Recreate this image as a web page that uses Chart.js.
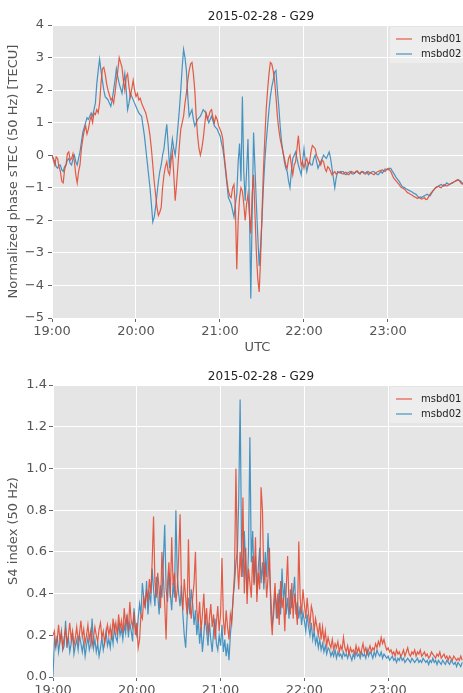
<!DOCTYPE html>
<html>
<head>
<meta charset="utf-8">
<script src="https://cdn.jsdelivr.net/npm/chart.js@4.4.1/dist/chart.umd.min.js"></script>
<style>
  body { margin: 0; background: #fff; }
  #top { position: absolute; left: 0; top: 0; }
  #bottom { position: absolute; left: 0; top: 355px; }
</style>
</head>
<body>
<canvas id="top" width="463" height="355"></canvas>
<canvas id="bottom" width="463" height="338"></canvas>
<script>
// minutes after 19:00 UTC
const hourTicks = [0, 60, 120, 180, 240]
const hourLabels = ['19:00', '20:00', '21:00', '22:00', '23:00']
const tecStep = 1
const s4Step = 1

const tecTicks = [-5, -4, -3, -2, -1, 0, 1, 2, 3, 4]
const s4Ticks = [0, 0.2, 0.4, 0.6, 0.8, 1.0, 1.2, 1.4]

const tecMsbd01 = [
  0.0, -0.15, -0.3, -0.05, -0.1, -0.35, -0.5, -0.8, -0.85, -0.45,
  -0.3, 0.05, 0.1, -0.15, -0.1, 0.05, -0.2, -0.6, -0.85, -0.5,
  -0.3, 0.2, 0.5, 0.75, 0.9, 0.65, 0.8, 1.05, 1.2, 1.0,
  1.3, 1.25, 1.4, 1.3, 1.6, 2.2, 2.65, 2.7, 2.5, 2.2,
  2.0, 1.85, 1.7, 1.75, 1.6, 1.9, 2.3, 2.6, 3.0, 2.85,
  2.7, 2.3, 2.0, 2.4, 2.5, 2.1, 1.8, 2.05, 2.3, 2.0,
  1.8, 1.9, 1.7, 1.75, 1.6, 1.5, 1.4, 1.3, 1.1, 0.9,
  0.6, 0.2, -0.3, -0.8, -1.2, -1.6, -1.85, -1.75, -1.6, -1.0,
  -0.6, -0.35, -0.2, -0.5, -0.6, -0.2, 0.1, -0.6, -1.4, -0.9,
  -0.3, 0.3, 0.8, 1.0, 1.2, 1.6, 1.9, 2.3, 2.6, 2.8,
  2.85, 2.5, 2.0, 1.2, 0.6, 0.2, 0.0, 0.2, 0.5, 0.9,
  1.3, 1.1, 1.2, 1.35, 1.4, 1.15, 1.0, 1.2, 1.1, 0.9,
  0.8, 0.7, 0.5, 0.0, -0.4, -0.8, -1.1, -1.25, -1.3, -1.0,
  -0.9, -1.6, -3.5, -2.0, -1.3, -1.0, -1.1, -1.5, -2.0, -1.5,
  -1.2, -1.8, -2.4, -1.2, -0.6, -1.8, -3.0, -3.8, -4.2, -3.2,
  -1.8, -0.5, 0.5, 1.4, 2.0, 2.5, 2.85, 2.8, 2.6, 2.3,
  1.8, 1.2, 0.8, 0.5, 0.3, 0.1, -0.1, -0.3, -0.4, -0.1,
  0.0, -0.3, -0.6, -0.3, -0.2, 0.2, 0.6, 0.1, -0.3, -0.2,
  -0.4, -0.2, -0.1, -0.3, -0.2, 0.1, 0.3, 0.25, 0.2, 0.0,
  -0.1, -0.2, -0.3, -0.15, -0.2, -0.4, -0.5, -0.35, -0.4, -0.5,
  -0.6, -0.55, -0.5, -0.58, -0.55, -0.52, -0.5, -0.56, -0.58, -0.54,
  -0.52, -0.58, -0.6, -0.55, -0.5, -0.52, -0.55, -0.5, -0.48, -0.53,
  -0.56, -0.5, -0.52, -0.57, -0.58, -0.53, -0.5, -0.55, -0.54, -0.58,
  -0.6, -0.55, -0.52, -0.5, -0.48, -0.46, -0.45, -0.48, -0.5, -0.44,
  -0.4, -0.45, -0.5, -0.6, -0.7, -0.75, -0.8, -0.85, -0.9, -0.97,
  -1.0, -1.02, -1.05, -1.1, -1.15, -1.17, -1.2, -1.22, -1.25, -1.28,
  -1.3, -1.33, -1.3, -1.32, -1.35, -1.33, -1.3, -1.36, -1.35, -1.28,
  -1.2, -1.15, -1.1, -1.05, -1.0, -0.97, -0.95, -0.98, -1.0, -0.95,
  -0.9, -0.93, -0.95, -0.92, -0.9, -0.87, -0.85, -0.82, -0.8, -0.78,
  -0.75, -0.78, -0.85, -0.88, -0.9
]
const tecMsbd02 = [
  0.0, -0.1, -0.2, -0.35, -0.4, -0.3, -0.3, -0.45, -0.5, -0.35,
  -0.3, -0.15, -0.1, -0.25, -0.3, -0.1, 0.0, -0.2, -0.3, -0.1,
  0.1, 0.4, 0.7, 0.85, 1.0, 1.15, 1.1, 1.2, 1.3, 1.2,
  1.4, 1.6, 2.2, 2.6, 2.95, 2.6, 2.3, 2.0, 1.8, 1.75,
  1.7, 1.6, 1.5, 1.7, 2.0, 2.3, 2.65, 2.4, 2.2, 2.05,
  1.9, 2.2, 2.5, 2.0, 1.4, 1.6, 1.9, 1.8, 1.7, 1.6,
  1.5, 1.4, 1.3, 1.25, 1.2, 0.9, 0.6, 0.2, -0.2, -0.6,
  -1.0, -1.5, -2.05, -1.9, -1.6, -1.2, -0.8, -0.5, -0.3, 0.0,
  0.2, 0.6, 0.95, 0.3, -0.4, 0.1, 0.5, 0.2, 0.0, 0.4,
  0.9, 1.4, 2.0, 2.7, 3.25, 3.0, 2.6, 1.8, 1.2, 1.3,
  1.4, 1.1, 0.9, 1.0, 1.1, 1.15, 1.2, 1.3, 1.4, 1.35,
  1.3, 1.15, 1.0, 1.1, 1.2, 1.05, 0.9, 0.85, 0.8, 0.7,
  0.6, 0.4, 0.2, -0.1, -0.5, -0.9, -1.3, -1.4, -1.5, -1.7,
  -1.9, -1.5, -1.2, -0.2, 0.36, -0.8, 1.8, -0.5, -1.4, -0.5,
  0.5, -1.5, -4.4, -1.8, 0.7, -0.4, -1.5, -2.5, -3.4, -2.8,
  -2.0, -1.0, -0.2, 0.4, 0.9, 1.4, 1.8, 2.1, 2.3, 2.55,
  2.6, 2.0, 1.5, 0.9, 0.4, 0.1, -0.2, -0.4, -0.5, -0.8,
  -1.0, -0.5, -0.1, 0.0, 0.1, -0.1, -0.3, -0.45, -0.6, -0.2,
  0.2, -0.2, -0.5, -0.3, -0.2, -0.3, -0.3, -0.1, 0.0, -0.2,
  -0.4, -0.3, -0.2, -0.1, 0.0, -0.05, -0.1, 0.0, 0.1, -0.1,
  -0.4, -0.7, -1.0, -0.7, -0.5, -0.52, -0.55, -0.5, -0.5, -0.57,
  -0.6, -0.55, -0.52, -0.5, -0.56, -0.58, -0.56, -0.52, -0.5, -0.55,
  -0.58, -0.52, -0.5, -0.53, -0.55, -0.5, -0.6, -0.56, -0.52, -0.5,
  -0.5, -0.55, -0.58, -0.6, -0.55, -0.5, -0.55, -0.48, -0.42, -0.44,
  -0.45, -0.4, -0.4, -0.48, -0.55, -0.62, -0.7, -0.75, -0.8, -0.88,
  -0.95, -0.98, -1.0, -1.03, -1.05, -1.08, -1.1, -1.12, -1.15, -1.18,
  -1.2, -1.25, -1.3, -1.28, -1.3, -1.27, -1.25, -1.22, -1.2, -1.23,
  -1.25, -1.18, -1.1, -1.05, -1.0, -0.98, -0.95, -0.92, -0.9, -0.93,
  -0.95, -0.9, -0.85, -0.88, -0.9, -0.87, -0.85, -0.82, -0.8, -0.77,
  -0.75, -0.78, -0.8, -0.85, -0.9
]

const s4Msbd01 = [
  0.20, 0.22, 0.15, 0.18, 0.25, 0.17, 0.21, 0.14, 0.19, 0.23,
  0.16, 0.20, 0.26, 0.18, 0.22, 0.15, 0.19, 0.24, 0.17, 0.21,
  0.27, 0.19, 0.23, 0.16, 0.20, 0.25, 0.18, 0.22, 0.15, 0.19,
  0.24, 0.20, 0.17, 0.23, 0.26, 0.19, 0.22, 0.16, 0.21, 0.25,
  0.20, 0.24, 0.18, 0.28, 0.22, 0.26, 0.20, 0.30, 0.23, 0.27,
  0.21, 0.33, 0.25, 0.29, 0.22, 0.36, 0.27, 0.24, 0.31, 0.20,
  0.26, 0.14, 0.18, 0.30, 0.28, 0.38, 0.34, 0.42, 0.36, 0.47,
  0.40, 0.55, 0.77, 0.45, 0.38, 0.50, 0.42, 0.33, 0.60, 0.48,
  0.35, 0.18, 0.45, 0.55, 0.38, 0.67, 0.44, 0.50, 0.36, 0.42,
  0.58, 0.78, 0.40, 0.32, 0.47, 0.38, 0.30, 0.66, 0.35, 0.28,
  0.38, 0.45, 0.60, 0.32, 0.26, 0.36, 0.22, 0.30, 0.40, 0.25,
  0.33, 0.20, 0.28, 0.35, 0.24, 0.30, 0.18, 0.26, 0.34, 0.22,
  0.30, 0.57, 0.28, 0.20, 0.32, 0.24, 0.18, 0.30, 0.26, 0.38,
  0.50, 1.00, 0.55, 0.42, 0.60, 0.48, 0.86, 0.40, 0.62, 0.35,
  0.52, 0.45, 0.38, 0.58, 0.44, 0.67, 0.36, 0.50, 0.42, 0.91,
  0.80, 0.45, 0.55, 0.38, 0.48, 0.62, 0.30, 0.20, 0.35, 0.45,
  0.28, 0.40, 0.25, 0.46, 0.33, 0.38, 0.22, 0.42, 0.58, 0.35,
  0.30, 0.45, 0.28, 0.40, 0.33, 0.25, 0.65, 0.38, 0.30, 0.42,
  0.35, 0.28, 0.38, 0.30, 0.25, 0.34, 0.31, 0.22, 0.28, 0.24,
  0.20, 0.26, 0.18, 0.24, 0.17, 0.22, 0.15, 0.19, 0.16, 0.14,
  0.18, 0.13, 0.16, 0.14, 0.17, 0.12, 0.15, 0.13, 0.19, 0.14,
  0.12, 0.15, 0.11, 0.14, 0.12, 0.13, 0.11, 0.15, 0.12, 0.14,
  0.11, 0.13, 0.16, 0.12, 0.14, 0.11, 0.13, 0.15, 0.12, 0.14,
  0.13, 0.16, 0.14, 0.17, 0.15, 0.19, 0.16, 0.18, 0.15, 0.13,
  0.14, 0.12, 0.13, 0.11, 0.12, 0.10, 0.13, 0.11, 0.12, 0.10,
  0.11, 0.13, 0.10, 0.12, 0.14, 0.11, 0.10, 0.12, 0.11, 0.13,
  0.10, 0.12, 0.11, 0.13, 0.10, 0.11, 0.12, 0.10, 0.11, 0.09,
  0.10, 0.12, 0.11, 0.10, 0.09, 0.11, 0.10, 0.12, 0.09, 0.10,
  0.11, 0.09, 0.10, 0.08, 0.10, 0.09, 0.08, 0.10, 0.09, 0.08,
  0.09, 0.08, 0.10, 0.08
]
const s4Msbd02 = [
  0.00, 0.18, 0.14, 0.20, 0.12, 0.17, 0.22, 0.13, 0.15, 0.27,
  0.14, 0.19, 0.12, 0.16, 0.21, 0.11, 0.15, 0.18, 0.13, 0.20,
  0.16, 0.12, 0.17, 0.10, 0.15, 0.19, 0.13, 0.16, 0.28, 0.14,
  0.18, 0.12, 0.16, 0.10, 0.14, 0.19, 0.13, 0.17, 0.22, 0.15,
  0.18, 0.14, 0.21, 0.16, 0.24, 0.19, 0.17, 0.26, 0.20, 0.23,
  0.18, 0.25, 0.21, 0.30, 0.19, 0.26, 0.22, 0.17, 0.33, 0.24,
  0.20, 0.28, 0.35, 0.30, 0.45, 0.38, 0.33, 0.46, 0.30, 0.40,
  0.36, 0.52, 0.42, 0.34, 0.48, 0.40, 0.30, 0.44, 0.38, 0.55,
  0.73, 0.42, 0.36, 0.50, 0.40, 0.32, 0.45, 0.38, 0.80, 0.48,
  0.40, 0.34, 0.44, 0.30, 0.20, 0.14, 0.28, 0.38, 0.30, 0.42,
  0.35, 0.25, 0.32, 0.20, 0.28, 0.16, 0.24, 0.12, 0.20, 0.30,
  0.22, 0.15, 0.26, 0.18, 0.12, 0.22, 0.28, 0.16, 0.13, 0.20,
  0.15, 0.25, 0.12, 0.18, 0.10, 0.16, 0.08, 0.20, 0.28, 0.38,
  0.45, 0.55, 0.60, 0.85, 1.33, 0.62, 0.48, 0.70, 0.52, 0.40,
  0.60, 1.15, 0.55, 0.70, 0.45, 0.58, 0.40, 0.52, 0.62, 0.45,
  0.55, 0.42, 0.60, 0.48, 0.69, 0.52, 0.38, 0.25, 0.30, 0.40,
  0.35, 0.28, 0.42, 0.30, 0.52, 0.36, 0.45, 0.30, 0.38, 0.28,
  0.42, 0.33, 0.40, 0.48, 0.30, 0.36, 0.28, 0.34, 0.25, 0.31,
  0.27, 0.22, 0.30, 0.24, 0.20, 0.26, 0.18, 0.22, 0.16, 0.19,
  0.14, 0.18, 0.13, 0.16, 0.12, 0.15, 0.11, 0.14, 0.13, 0.10,
  0.12, 0.10, 0.13, 0.09, 0.12, 0.10, 0.11, 0.09, 0.12, 0.10,
  0.11, 0.09, 0.12, 0.10, 0.08, 0.11, 0.09, 0.12, 0.10, 0.11,
  0.09, 0.12, 0.10, 0.11, 0.09, 0.13, 0.10, 0.12, 0.11, 0.09,
  0.12, 0.10, 0.13, 0.11, 0.10, 0.12, 0.09, 0.11, 0.10, 0.09,
  0.10, 0.08, 0.09, 0.10, 0.08, 0.09, 0.07, 0.09, 0.08, 0.10,
  0.08, 0.09, 0.07, 0.08, 0.09, 0.08, 0.07, 0.09, 0.08, 0.07,
  0.08, 0.09, 0.07, 0.08, 0.07, 0.09, 0.08, 0.07, 0.08, 0.06,
  0.08, 0.07, 0.09, 0.07, 0.08, 0.06, 0.08, 0.07, 0.06, 0.08,
  0.07, 0.06, 0.08, 0.07, 0.06, 0.08, 0.07, 0.06, 0.07, 0.05,
  0.07, 0.06, 0.05, 0.07
]

const RED = 'rgba(226, 74, 51, 0.9)'
const BLUE = 'rgba(52, 138, 189, 0.9)'
const FONT = '"DejaVu Sans", sans-serif'

function toPoints(values, step) {
    return values.map((v, i) => ({ x: i * step, y: v }))
}

// ggplot-ish look: grey plot area, title centred on the axes, legend in the corner
const ggPlugin = {
    id: 'gg',
    beforeDraw(chart, args, opts) {
        const a = chart.chartArea
        const ctx = chart.ctx
        ctx.save()
        ctx.fillStyle = '#E5E5E5'
        ctx.fillRect(a.left, a.top, a.right - a.left, a.bottom - a.top)
        ctx.restore()
    },
    afterDraw(chart, args, opts) {
        const a = chart.chartArea
        const ctx = chart.ctx
        ctx.save()
        ctx.font = '12px ' + FONT
        ctx.fillStyle = '#222'
        ctx.textAlign = 'center'
        ctx.textBaseline = 'middle'
        ctx.fillText(opts.title, 261, a.top - 8.5)

        ctx.fillStyle = 'rgba(255,255,255,0.3)'
        ctx.fillRect(390, a.top + 2, 80, 36)
        ctx.font = '10px ' + FONT
        ctx.textAlign = 'left'
        chart.data.datasets.forEach((ds, i) => {
            const y = a.top + 14 + i * 15
            ctx.strokeStyle = ds.borderColor
            ctx.lineWidth = 1.2
            ctx.beginPath()
            ctx.moveTo(396, y)
            ctx.lineTo(412, y)
            ctx.stroke()
            ctx.fillStyle = '#222'
            ctx.fillText(ds.label, 421, y)
        })
        ctx.restore()
    }
}

function makeChart(id, opts) {
    return new Chart(document.getElementById(id).getContext('2d'), {
        type: 'line',
        data: {
            datasets: [
                { label: 'msbd01', data: toPoints(opts.red, opts.step), borderColor: RED },
                { label: 'msbd02', data: toPoints(opts.blue, opts.step), borderColor: BLUE }
            ]
        },
        options: {
            responsive: false,
            animation: false,
            devicePixelRatio: 1,
            layout: { padding: { top: opts.top, right: 0, left: 0, bottom: 0 } },
            elements: {
                point: { radius: 0 },
                line: { borderWidth: 1.2, tension: 0 }
            },
            plugins: {
                legend: { display: false },
                tooltip: { enabled: false },
                gg: { title: '2015-02-28 - G29' }
            },
            scales: {
                x: {
                    type: 'linear',
                    min: 0,
                    max: 293.6,
                    afterBuildTicks: s => { s.ticks = hourTicks.map(v => ({ value: v })) },
                    afterFit: s => { s.height = opts.xHeight },
                    border: { display: false },
                    grid: { color: '#fff', lineWidth: 1, tickLength: 4, tickColor: '#666' },
                    ticks: {
                        padding: 2,
                        color: '#555',
                        font: { family: FONT, size: 13 },
                        maxRotation: 0,
                        callback: (v, i) => hourLabels[i]
                    },
                    title: {
                        display: opts.xTitle,
                        text: 'UTC',
                        color: '#555',
                        font: { family: FONT, size: 13 },
                        padding: { top: 0, bottom: 0 }
                    }
                },
                y: {
                    min: opts.yTicks[0],
                    max: opts.yTicks[opts.yTicks.length - 1],
                    afterBuildTicks: s => { s.ticks = opts.yTicks.map(v => ({ value: v })) },
                    afterFit: s => { s.width = opts.left },
                    border: { display: false },
                    grid: { color: '#fff', lineWidth: 1, tickLength: 4, tickColor: '#666' },
                    ticks: {
                        padding: opts.yPad,
                        color: '#555',
                        font: { family: FONT, size: 13 },
                        callback: opts.yFormat
                    },
                    title: {
                        display: true,
                        text: opts.yTitle,
                        color: '#555',
                        font: { family: FONT, size: 13 },
                        padding: { top: 6, bottom: 0 }
                    }
                }
            }
        },
        plugins: [ggPlugin]
    })
}

makeChart('top', {
    red: tecMsbd01, blue: tecMsbd02, step: tecStep,
    top: 25, left: 52, xHeight: 37, xTitle: true, yPad: 4,
    yTicks: tecTicks,
    yTitle: 'Normalized phase sTEC (50 Hz) [TECU]',
    yFormat: v => String(v).replace('-', '\u2212')
})

makeChart('bottom', {
    red: s4Msbd01, blue: s4Msbd02, step: s4Step,
    top: 30, left: 53, xHeight: 16, xTitle: false, yPad: 2,
    yTicks: s4Ticks,
    yTitle: 'S4 index (50 Hz)',
    yFormat: v => v.toFixed(1)
})
</script>
</body>
</html>
